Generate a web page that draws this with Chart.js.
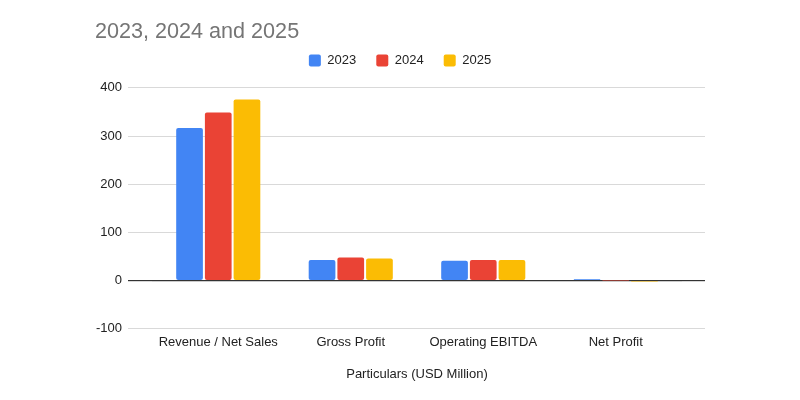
<!DOCTYPE html>
<html>
<head>
<meta charset="utf-8">
<script src="https://cdn.jsdelivr.net/npm/chart.js@4.4.1/dist/chart.umd.min.js"></script>
<style>
  html, body { margin: 0; padding: 0; background: #fff; }
  #wrap { width: 800px; height: 400px; }
</style>
</head>
<body>
<div id="wrap"><canvas id="chart"></canvas></div>
<script>
// Chart data
const categories = ['Revenue / Net Sales', 'Gross Profit', 'Operating EBITDA', 'Net Profit'];
const values2023 = [317, 43, 41, 3];
const values2024 = [349, 48, 43, 0.3];
const values2025 = [376, 46, 43, -2.5];
const yTicks = [-100, 0, 100, 200, 300, 400];

const fontFamily = "'Liberation Sans', Arial, sans-serif";
const gridColor = ctx => ctx.tick && ctx.tick.value === 0 ? '#333' : '#d9d9d9';
const setTicks = axis => { axis.ticks = yTicks.map(v => ({ value: v })); };

// adds some room between the legend and the plot
const legendGap = {
  id: 'legendGap',
  beforeLayout(chart) {
    const legend = chart.legend;
    if (!legend || legend._gapPatched) return;
    const fit = legend.fit;
    legend.fit = function () {
      fit.call(this);
      this.height += 11;
    };
    legend._gapPatched = true;
  }
};

new Chart(document.getElementById('chart'), {
  type: 'bar',
  data: {
    labels: categories,
    datasets: [
      { label: '2023', data: values2023, backgroundColor: '#4285F4' },
      { label: '2024', data: values2024, backgroundColor: '#EA4335' },
      { label: '2025', data: values2025, backgroundColor: '#FBBC04' }
    ]
  },
  plugins: [legendGap],
  options: {
    responsive: true,
    maintainAspectRatio: false,
    animation: false,
    layout: { padding: { left: 95, right: 95, top: 19, bottom: 14 } },
    datasets: {
      bar: { categoryPercentage: 0.65, barPercentage: 0.93, borderRadius: 2, borderSkipped: false }
    },
    plugins: {
      title: {
        display: true,
        text: '2023, 2024 and 2025',
        align: 'start',
        color: '#757575',
        font: { family: fontFamily, size: 21.6, weight: 'normal' },
        padding: { top: 0, bottom: -11 }
      },
      legend: {
        labels: {
          boxWidth: 12,
          boxHeight: 12,
          padding: 20,
          color: '#222',
          font: { family: fontFamily, size: 13 },
          useBorderRadius: true,
          borderRadius: 2
        }
      },
      tooltip: { enabled: false }
    },
    scales: {
      x: {
        grid: { display: false, drawTicks: false },
        border: { display: false },
        ticks: { color: '#222', padding: 6, font: { family: fontFamily, size: 13 } },
        title: {
          display: true,
          text: 'Particulars (USD Million)',
          color: '#222',
          font: { family: fontFamily, size: 13 },
          padding: { top: 10, bottom: 4 }
        }
      },
      y: {
        min: -100,
        max: 400,
        afterBuildTicks: setTicks,
        afterFit: axis => { axis.width = 57; },
        border: { display: false },
        grid: {
          color: gridColor,
          lineWidth: ctx => ctx.tick && ctx.tick.value === 0 ? 1.2 : 1,
          drawTicks: true,
          tickLength: 24
        },
        ticks: { color: '#222', padding: 6, font: { family: fontFamily, size: 13 } }
      },
      // right-hand axis only extends the gridlines past the last category
      yRight: {
        position: 'right',
        min: -100,
        max: 400,
        afterBuildTicks: setTicks,
        border: { display: false },
        grid: {
          color: gridColor,
          lineWidth: ctx => ctx.tick && ctx.tick.value === 0 ? 1.2 : 1,
          drawOnChartArea: false,
          drawTicks: true,
          tickLength: 23
        },
        ticks: { display: false }
      }
    }
  }
});
</script>
</body>
</html>
